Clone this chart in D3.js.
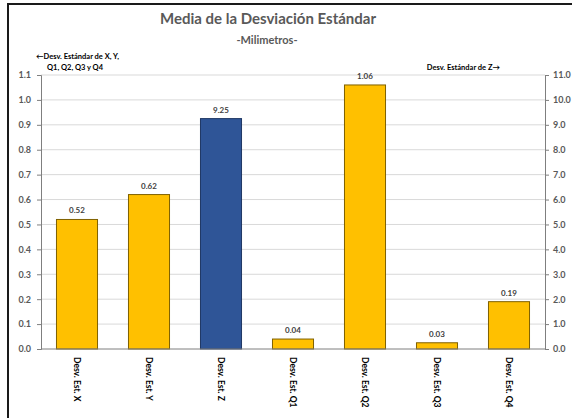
<!DOCTYPE html>
<html>
<head>
<meta charset="utf-8">
<script src="https://cdn.jsdelivr.net/npm/d3@7"></script>
<style>
  body { margin: 0; background: #fff; }
  text { font-family: Lato, "Noto Sans", sans-serif; font-weight: bold; }
</style>
</head>
<body>
<svg width="572" height="418"></svg>
<script>
// categories and values (Z is read on the right axis)
var categories = ["Desv. Est. X", "Desv. Est. Y", "Desv. Est. Z", "Desv. Est. Q1", "Desv. Est. Q2", "Desv. Est. Q3", "Desv. Est. Q4"];
var values = [0.52, 0.62, 9.25, 0.04, 1.06, 0.025, 0.19];
var labels = ["0.52", "0.62", "9.25", "0.04", "1.06", "0.03", "0.19"];
var onRight = [false, false, true, false, false, false, false];
var leftTicks = [0, 0.1, 0.2, 0.3, 0.4, 0.5, 0.6, 0.7, 0.8, 0.9, 1.0, 1.1];
var rightTicks = [0, 1, 2, 3, 4, 5, 6, 7, 8, 9, 10, 11];

var chart = {

    draw : function() {
        var svg = d3.select("svg");

        // outer frame
        svg.append("rect")
            .attr("x", 8).attr("y", 4)
            .attr("width", 580).attr("height", 430)
            .style("fill", "none")
            .style("stroke", "#1a1a1a")
            .style("stroke-width", "2px");

        var left = 41, right = 545, top = 75, bottom = 349;

        var x = d3.scaleBand().domain(categories).range([left, right]).paddingInner(0.43).paddingOuter(0.215);
        var yL = d3.scaleLinear().domain([0, 1.1]).range([bottom, top]);
        var yR = d3.scaleLinear().domain([0, 11]).range([bottom, top]);

        // gridlines
        svg.append("g")
            .selectAll("line")
            .data(leftTicks.slice(1))
            .enter()
            .append("line")
            .attr("x1", left).attr("x2", right)
            .attr("y1", function(d) {return yL(d);})
            .attr("y2", function(d) {return yL(d);})
            .style("stroke", "#d9d9d9")
            .style("stroke-width", "1px");

        // bars
        var bars = svg.append("g")
            .selectAll("g")
            .data(categories)
            .enter()
            .append("g");

        bars.append("rect")
            .attr("x", function(d) {return x(d);})
            .attr("width", x.bandwidth())
            .attr("y", function(d, i) {return (onRight[i] ? yR : yL)(values[i]);})
            .attr("height", function(d, i) {return bottom - (onRight[i] ? yR : yL)(values[i]);})
            .style("fill", function(d, i) {return onRight[i] ? "#2f5597" : "#ffc000";})
            .style("stroke", function(d, i) {return onRight[i] ? "#1f3864" : "#7f6000";})
            .style("stroke-width", "1px");

        bars.append("text")
            .attr("x", function(d) {return x(d) + x.bandwidth() / 2;})
            .attr("y", function(d, i) {return (onRight[i] ? yR : yL)(values[i]) - 6;})
            .style("text-anchor", "middle")
            .style("font-size", "8px")
            .style("fill", "#404040")
            .text(function(d, i) {return labels[i];});

        // axes
        var axL = svg.append("g")
            .attr("transform", "translate(" + left + ",0)")
            .call(d3.axisLeft(yL).tickValues(leftTicks).tickFormat(d3.format(".1f")).tickSizeOuter(0).tickSize(4).tickPadding(6));
        var axR = svg.append("g")
            .attr("transform", "translate(" + right + ",0)")
            .call(d3.axisRight(yR).tickValues(rightTicks).tickFormat(d3.format(".1f")).tickSizeOuter(0).tickSize(4).tickPadding(4));
        [axL, axR].forEach(function(ax) {
            ax.select(".domain").style("stroke", "#7f7f7f");
            ax.selectAll(".tick line").style("stroke", "#7f7f7f");
            ax.selectAll(".tick text")
                .style("font-family", "Lato, sans-serif")
                .style("font-weight", "bold")
                .style("font-size", "9px")
                .style("fill", "#595959");
        });

        // baseline
        svg.append("line")
            .attr("x1", left).attr("x2", right)
            .attr("y1", bottom).attr("y2", bottom)
            .style("stroke", "#7f7f7f");

        // category labels, rotated
        svg.append("g")
            .selectAll("text")
            .data(categories)
            .enter()
            .append("text")
            .attr("transform", function(d) {return "translate(" + (x(d) + x.bandwidth() / 2 - 3) + ",357) rotate(90)";})
            .style("font-size", "8.5px")
            .style("fill", "#000")
            .text(function(d) {return d;});

        // titles
        svg.append("text")
            .attr("x", 268).attr("y", 24)
            .style("text-anchor", "middle")
            .style("font-size", "15px")
            .style("fill", "#595959")
            .text("Media de la Desviación Estándar");
        svg.append("text")
            .attr("x", 267).attr("y", 44)
            .style("text-anchor", "middle")
            .style("font-size", "11px")
            .style("fill", "#595959")
            .text("-Milimetros-");

        svg.append("text")
            .attr("x", 36).attr("y", 59)
            .style("font-size", "7.5px")
            .style("fill", "#000")
            .text("\u2190Desv. Estándar de X, Y,");
        svg.append("text")
            .attr("x", 47).attr("y", 70)
            .style("font-size", "7.5px")
            .style("fill", "#000")
            .text("Q1, Q2, Q3 y Q4");
        svg.append("text")
            .attr("x", 500).attr("y", 70)
            .style("text-anchor", "end")
            .style("font-size", "7.5px")
            .style("fill", "#000")
            .text("Desv. Estándar de Z\u2192");
    }
};

chart.draw();
</script>
</body>
</html>
